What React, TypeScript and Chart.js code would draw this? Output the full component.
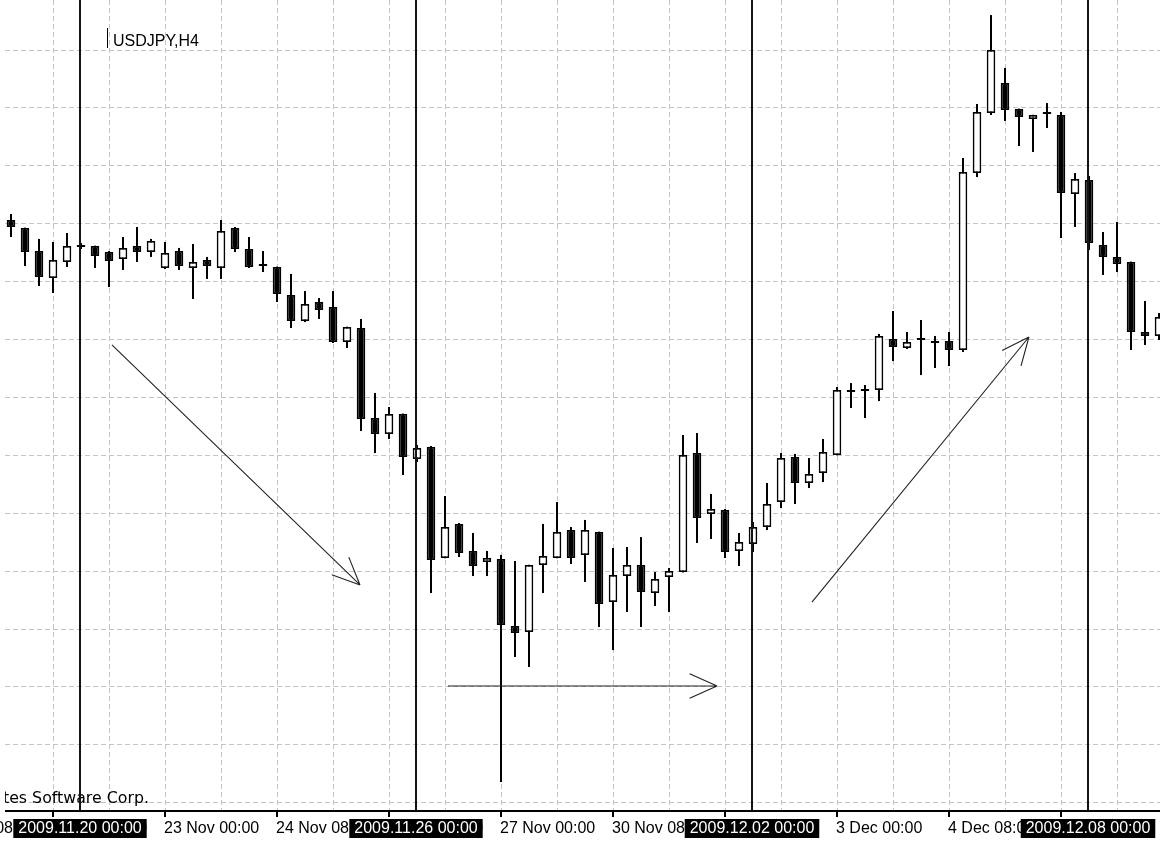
import React, { useEffect, useRef } from "react";
import { Chart, registerables } from "chart.js";

Chart.register(...registerables);

// USDJPY H4 candles, first bar = 19 Nov 2009 04:00
const opens = [
  89.129, 89.067, 88.888, 88.678, 88.803, 88.919, 88.927, 88.88, 88.826, 88.927,
  88.88, 88.756, 88.888, 88.756, 88.818, 88.756, 89.067, 88.904, 88.772, 88.764,
  88.546, 88.344, 88.492, 88.453, 88.181, 88.29, 87.59, 87.466, 87.621, 87.272,
  87.365, 86.502, 86.767, 86.557, 86.471, 86.495, 85.974, 85.927, 86.448, 86.502,
  86.72, 86.526, 86.704, 86.16, 86.362, 86.448, 86.23, 86.355, 86.393, 87.318,
  86.844, 86.875, 86.557, 86.611, 86.743, 86.937, 87.287, 87.085, 87.163, 87.303,
  87.792, 87.8, 87.808, 88.204, 88.134, 88.197, 88.173, 88.189, 88.119, 89.494,
  89.961, 90.194, 89.992, 89.914, 89.953, 89.945, 89.331, 89.44, 88.935, 88.842,
  88.803, 88.259, 88.228,
];
const highs = [
  89.176, 89.07, 88.982, 88.958, 89.028, 88.95, 88.93, 88.888, 88.997, 89.075,
  88.982, 88.958, 88.912, 88.943, 88.842, 89.129, 89.075, 88.997, 88.888, 88.767,
  88.71, 88.577, 88.523, 88.577, 88.3, 88.36, 87.785, 87.676, 87.625, 87.381,
  87.373, 86.984, 86.774, 86.697, 86.557, 86.526, 86.479, 86.45, 86.767, 86.937,
  86.743, 86.798, 86.707, 86.58, 86.588, 86.665, 86.393, 86.425, 87.458, 87.474,
  87.0, 86.883, 86.697, 86.782, 87.085, 87.318, 87.311, 87.279, 87.427, 87.831,
  87.862, 87.847, 88.243, 88.422, 88.259, 88.352, 88.228, 88.259, 89.611, 90.031,
  90.722, 90.311, 89.995, 89.947, 90.038, 89.969, 89.494, 89.471, 89.036, 89.114,
  88.806, 88.5, 88.406,
];
const lows = [
  88.997, 88.772, 88.616, 88.562, 88.764, 88.904, 88.756, 88.608, 88.741, 88.803,
  88.842, 88.748, 88.741, 88.515, 88.671, 88.671, 88.88, 88.756, 88.725, 88.492,
  88.29, 88.336, 88.36, 88.173, 88.134, 87.489, 87.318, 87.427, 87.147, 87.248,
  86.23, 86.5, 86.51, 86.362, 86.362, 84.761, 85.733, 85.655, 86.23, 86.5,
  86.456, 86.316, 85.966, 85.787, 86.083, 85.966, 86.129, 86.083, 86.39, 86.619,
  86.65, 86.502, 86.44, 86.549, 86.72, 86.891, 86.922, 87.046, 87.093, 87.3,
  87.668, 87.59, 87.722, 88.033, 88.127, 87.924, 87.979, 87.994, 88.103, 89.463,
  89.945, 89.899, 89.704, 89.658, 89.844, 88.989, 89.075, 88.896, 88.702, 88.725,
  88.119, 88.158, 88.197,
];
const closes = [
  89.075, 88.88, 88.686, 88.818, 88.927, 88.919, 88.849, 88.811, 88.912, 88.88,
  88.966, 88.873, 88.772, 88.803, 88.772, 89.044, 88.904, 88.764, 88.772, 88.554,
  88.344, 88.476, 88.43, 88.181, 88.298, 87.583, 87.466, 87.621, 87.287, 87.357,
  86.487, 86.743, 86.541, 86.44, 86.502, 85.982, 85.919, 86.448, 86.518, 86.704,
  86.502, 86.72, 86.145, 86.37, 86.448, 86.238, 86.339, 86.401, 87.303, 86.813,
  86.883, 86.549, 86.627, 86.743, 86.922, 87.279, 87.085, 87.155, 87.326, 87.808,
  87.792, 87.8, 88.228, 88.142, 88.181, 88.197, 88.173, 88.119, 89.502, 89.969,
  90.45, 89.984, 89.93, 89.945, 89.953, 89.339, 89.448, 88.95, 88.842, 88.787,
  88.259, 88.228, 88.375,
];

// vertical dotted grid every 4 bars, horizontal grid every 0.45
const gridBarIndex = [-1, 3, 7, 11, 15, 19, 23, 27, 31, 35, 39, 43, 47, 51, 55, 59, 63, 67, 71, 75, 79];
const priceGrid = [84.6, 85.05, 85.5, 85.95, 86.4, 86.85, 87.3, 87.75, 88.2, 88.65, 89.1, 89.55, 90.0, 90.45];

// time axis
const timeTickIndex = [-5, 3, 11, 19, 27, 35, 43, 51, 59, 67, 75];
const timeTickLabels = [
  "18 Nov 08:00", "19 Nov 16:00", "23 Nov 00:00", "24 Nov 08:00", "25 Nov 16:00",
  "27 Nov 00:00", "30 Nov 08:00", "1 Dec 16:00", "3 Dec 00:00", "4 Dec 08:00", "7 Dec 16:00",
];

// vertical line objects
const vlineIndex = [5, 29, 53, 77];
const vlineLabels = ["2009.11.20 00:00", "2009.11.26 00:00", "2009.12.02 00:00", "2009.12.08 00:00"];

// arrow objects: [bar index, price]
const arrowFrom = [[7.21, 88.158], [31.21, 85.507], [57.21, 86.16]];
const arrowTo = [[24.93, 86.293], [50.43, 85.507], [72.71, 88.22]];

const symbolText = "USDJPY,H4";
const copyrightText = "MetaQuotes Software Corp.";

const xMin = -0.4286;
const xMax = 82.0714;
const yMin = 84.536;
const yMax = 90.839;

const FONT = '16px "Liberation Sans", Arial, sans-serif';
const COPY_FONT = '15.8px "DejaVu Sans", sans-serif';

const overlay = {
  id: "mt4overlay",
  afterDatasetsDraw(chart: any) {
    const { ctx, chartArea: a } = chart;
    const xs = chart.scales.x;
    const ys = chart.scales.y;
    ctx.save();

    // copyright text (clipped to plot area)
    ctx.save();
    ctx.beginPath();
    ctx.rect(a.left, a.top, a.right - a.left, a.bottom - a.top);
    ctx.clip();
    ctx.font = COPY_FONT;
    ctx.fillStyle = "#000";
    ctx.textAlign = "right";
    ctx.textBaseline = "alphabetic";
    ctx.fillText(copyrightText, a.left + 144, a.bottom - 8);
    ctx.restore();

    // vertical line objects
    ctx.strokeStyle = "#141414";
    ctx.lineWidth = 2;
    vlineIndex.forEach((v) => {
      const px = Math.round(xs.getPixelForValue(v)) - 1;
      ctx.beginPath();
      ctx.moveTo(px, a.top);
      ctx.lineTo(px, a.bottom);
      ctx.stroke();
    });

    // arrows
    ctx.strokeStyle = "#222";
    ctx.lineWidth = 1.1;
    const headLen = 30;
    const headAng = (24 * Math.PI) / 180;
    arrowFrom.forEach((f, k) => {
      const t = arrowTo[k];
      const x1 = xs.getPixelForValue(f[0]);
      const y1 = ys.getPixelForValue(f[1]);
      const x2 = xs.getPixelForValue(t[0]);
      const y2 = ys.getPixelForValue(t[1]);
      ctx.beginPath();
      ctx.moveTo(x1, y1);
      ctx.lineTo(x2, y2);
      const ang = Math.atan2(y2 - y1, x2 - x1) + Math.PI;
      [-1, 1].forEach((s) => {
        ctx.moveTo(x2, y2);
        ctx.lineTo(x2 + headLen * Math.cos(ang + s * headAng), y2 + headLen * Math.sin(ang + s * headAng));
      });
      ctx.stroke();
    });

    // time axis line
    ctx.fillStyle = "#000";
    ctx.fillRect(a.left, a.bottom - 1, a.right - a.left, 2);

    // ticks + labels
    ctx.font = FONT;
    ctx.textAlign = "left";
    ctx.textBaseline = "alphabetic";
    timeTickIndex.forEach((v, k) => {
      const px = xs.getPixelForValue(v);
      ctx.fillStyle = "#000";
      if (px >= a.left) ctx.fillRect(Math.round(px) - 1, a.bottom, 2, 6);
      ctx.fillText(timeTickLabels[k], px - 1, a.bottom + 22);
    });

    // highlighted boxes for vertical lines
    vlineIndex.forEach((v, k) => {
      const px = Math.round(xs.getPixelForValue(v)) - 1;
      const w = ctx.measureText(vlineLabels[k]).width + 10;
      ctx.fillStyle = "#000";
      ctx.fillRect(px - w / 2, a.bottom + 8, w, 19);
      ctx.fillStyle = "#fff";
      ctx.textAlign = "center";
      ctx.fillText(vlineLabels[k], px, a.bottom + 22);
    });

    // symbol caption
    ctx.fillStyle = "#000";
    ctx.fillRect(a.left + 102, a.top + 28, 1, 20);
    ctx.textAlign = "left";
    ctx.fillText(symbolText, a.left + 108, a.top + 46);

    ctx.restore();
  },
};

export default function App() {
  const ref = useRef<HTMLCanvasElement | null>(null);

  useEffect(() => {
    document.body.style.margin = "0";
    document.body.style.background = "#fff";
    const canvas = ref.current;
    if (!canvas) return;

    const bodies = opens.map((o, i) => ({ x: i, y: [o, closes[i]] }));
    const wicks = lows.map((l, i) => ({ x: i, y: [l, highs[i]] }));
    const bodyColors = opens.map((o, i) => (closes[i] > o ? "#ffffff" : "#000000"));

    const gridStyle = { color: "#c4c4c4", lineWidth: 1, drawTicks: false, offset: false };
    const borderStyle = { display: false, dash: [5, 3] };

    const chart = new Chart(canvas, {
      type: "bar",
      data: {
        datasets: [
          {
            label: "body",
            data: bodies as any,
            backgroundColor: bodyColors,
            borderColor: "#000",
            borderWidth: 1.8,
            borderSkipped: false,
            minBarLength: 2,
            maxBarThickness: 8.6,
            barPercentage: 1,
            categoryPercentage: 1,
            inflateAmount: 0,
            grouped: false,
            order: 0,
          } as any,
          {
            label: "wick",
            data: wicks as any,
            backgroundColor: "#000",
            borderWidth: 0,
            maxBarThickness: 2,
            barPercentage: 1,
            categoryPercentage: 1,
            inflateAmount: 0,
            grouped: false,
            order: 1,
          } as any,
        ],
      },
      options: {
        responsive: false,
        animation: false,
        events: [],
        layout: { padding: { left: 5, top: 0, right: 0, bottom: 37 } },
        plugins: { legend: { display: false }, tooltip: { enabled: false } },
        scales: {
          x: {
            type: "linear",
            min: xMin,
            max: xMax,
            offset: false,
            ticks: { display: false },
            afterBuildTicks: (s: any) => {
              s.ticks = gridBarIndex.map((v) => ({ value: v }));
            },
            grid: gridStyle,
            border: borderStyle,
          } as any,
          y: {
            type: "linear",
            min: yMin,
            max: yMax,
            beginAtZero: false,
            ticks: { display: false },
            afterBuildTicks: (s: any) => {
              s.ticks = priceGrid.map((v) => ({ value: v }));
            },
            grid: gridStyle,
            border: borderStyle,
          } as any,
        },
      },
      plugins: [overlay],
    });

    return () => chart.destroy();
  }, []);

  return (
    <div style={{ width: 1160, height: 848, background: "#fff" }}>
      <canvas ref={ref} width={1160} height={848} style={{ display: "block" }} />
    </div>
  );
}
